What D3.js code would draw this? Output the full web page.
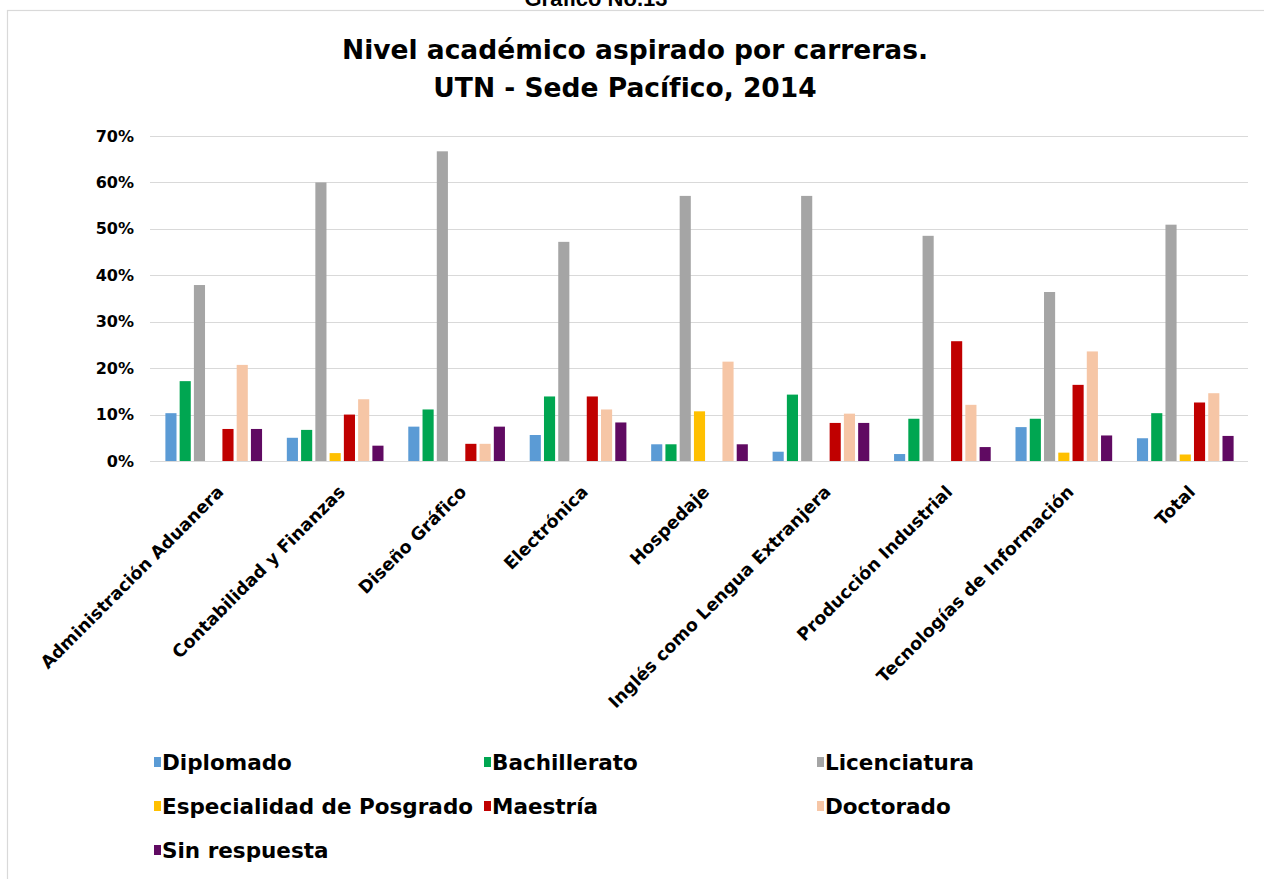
<!DOCTYPE html>
<html lang="es">
<head>
<meta charset="utf-8">
<script src="https://cdn.jsdelivr.net/npm/d3@7"></script>
<style>
  html, body { margin: 0; padding: 0; background: #ffffff; }
  svg { display: block; }
  text { font-family: "Century Gothic", "DejaVu Sans", sans-serif; fill: #000; }
</style>
</head>
<body>
<svg id="chart" width="1264" height="879"></svg>
<script>
// Careers (x categories)
const carreras = [
  "Administración Aduanera",
  "Contabilidad y Finanzas",
  "Diseño Gráfico",
  "Electrónica",
  "Hospedaje",
  "Inglés como Lengua Extranjera",
  "Producción Industrial",
  "Tecnologías de Información",
  "Total"
];

// Aspired academic level (series)
const niveles = [
  "Diplomado",
  "Bachillerato",
  "Licenciatura",
  "Especialidad de Posgrado",
  "Maestría",
  "Doctorado",
  "Sin respuesta"
];

// Percentages per career, one array per level (same order as carreras)
const diplomado    = [10.3,  5.0,  7.4,  5.6,  3.6,  2.0,  1.5,  7.3,  4.9];
const bachillerato = [17.2,  6.7, 11.1, 13.9,  3.6, 14.3,  9.1,  9.1, 10.3];
const licenciatura = [37.9, 60.0, 66.7, 47.2, 57.1, 57.1, 48.5, 36.4, 50.9];
const especialidad = [ 0.0,  1.7,  0.0,  0.0, 10.7,  0.0,  0.0,  1.8,  1.4];
const maestria     = [ 6.9, 10.0,  3.7, 13.9,  0.0,  8.2, 25.8, 16.4, 12.6];
const doctorado    = [20.7, 13.3,  3.7, 11.1, 21.4, 10.2, 12.1, 23.6, 14.6];
const sinRespuesta = [ 6.9,  3.3,  7.4,  8.3,  3.6,  8.2,  3.0,  5.5,  5.4];

// Y-axis ticks
const yTicks = [0, 10, 20, 30, 40, 50, 60, 70];

const colores = ["#5b9bd5", "#00a651", "#a5a5a5", "#ffc000", "#c00000", "#f6c6a6", "#600a62"];

const serieValores = [diplomado, bachillerato, licenciatura, especialidad, maestria, doctorado, sinRespuesta];

// Long-format rows built from the arrays above
const filas = carreras.map((c, i) => ({
  carrera: c,
  valores: niveles.map((n, j) => ({ nivel: n, valor: serieValores[j][i] }))
}));

const svg = d3.select("#chart");

// Caption above the frame (partly outside the page)
svg.append("text")
  .attr("x", 596).attr("y", 6)
  .attr("text-anchor", "middle")
  .style("font-family", "'Liberation Sans', Arial, sans-serif")
  .style("font-weight", "bold")
  .style("font-size", "22px")
  .text("Gráfico No.13");

svg.append("rect")
  .attr("x", 7.5).attr("y", 10.5)
  .attr("width", 1300).attr("height", 900)
  .attr("fill", "#ffffff")
  .attr("stroke", "#d9d9d9")
  .attr("stroke-width", 1.2);

// Title
const titulo = svg.append("g").attr("font-weight", "bold");
titulo.append("text")
  .attr("x", 635).attr("y", 59)
  .attr("text-anchor", "middle")
  .style("font-size", "26.5px")
  .text("Nivel académico aspirado por carreras.");
titulo.append("text")
  .attr("x", 625).attr("y", 97)
  .attr("text-anchor", "middle")
  .style("font-size", "26.5px")
  .text("UTN - Sede Pacífico, 2014");

// Plot area
const plotL = 150, plotR = 1248, plotT = 136, plotB = 461;

const y = d3.scaleLinear().domain([0, 70]).range([plotB, plotT]);
const x0 = d3.scaleBand().domain(carreras).range([plotL + 3, plotR - 2]).padding(0);
const x1 = d3.scaleBand().domain(niveles)
  .range([x0.bandwidth() * 0.102, x0.bandwidth() * 0.898])
  .paddingInner(0.22).paddingOuter(0);

// Gridlines
svg.append("g")
  .selectAll("line")
  .data(yTicks)
  .join("line")
  .attr("x1", plotL).attr("x2", plotR)
  .attr("y1", d => Math.round(y(d)) + 0.5)
  .attr("y2", d => Math.round(y(d)) + 0.5)
  .attr("stroke", "#d9d9d9")
  .attr("stroke-width", 1.2);

// Y axis labels
const yAxis = d3.axisLeft(y).tickValues(yTicks).tickSize(0).tickPadding(0).tickFormat(d => d + "%");
const gy = svg.append("g").attr("transform", `translate(${plotL - 16},0)`).call(yAxis);
gy.select(".domain").remove();
gy.selectAll("text")
  .style("font-family", "'Century Gothic', 'DejaVu Sans', sans-serif")
  .style("font-weight", "bold")
  .style("font-size", "16px")
  .attr("fill", "#000");

// Bars
const grupos = svg.append("g")
  .selectAll("g")
  .data(filas)
  .join("g")
  .attr("transform", d => `translate(${x0(d.carrera)},0)`);

grupos.selectAll("rect")
  .data(d => d.valores)
  .join("rect")
  .attr("x", d => x1(d.nivel))
  .attr("width", x1.bandwidth())
  .attr("y", d => y(d.valor))
  .attr("height", d => plotB - y(d.valor))
  .attr("fill", (d, i) => colores[i]);

// X axis (category labels, rotated)
const xAxis = d3.axisBottom(x0).tickSize(0).tickPadding(0);
const gx = svg.append("g").attr("transform", `translate(0,${plotB})`).call(xAxis);
gx.select(".domain").remove();
gx.selectAll(".tick text")
  .style("font-family", "'Century Gothic', 'DejaVu Sans', sans-serif")
  .style("font-weight", "bold")
  .style("font-size", "17.5px")
  .attr("fill", "#000")
  .attr("text-anchor", "end")
  .attr("dy", 0)
  .attr("y", 0)
  .attr("transform", "translate(11,32) rotate(-45)");

// Legend
const legendaPos = [
  [154, 762], [484, 762], [817, 762],
  [154, 806], [484, 806], [817, 806],
  [154, 850]
];
const leyenda = svg.append("g")
  .selectAll("g")
  .data(niveles)
  .join("g")
  .attr("transform", (d, i) => `translate(${legendaPos[i][0]},${legendaPos[i][1]})`);

leyenda.append("rect")
  .attr("x", 0).attr("y", -5)
  .attr("width", 7).attr("height", 10)
  .attr("fill", (d, i) => colores[i]);

leyenda.append("text")
  .attr("x", 8).attr("y", 0)
  .attr("dy", "0.36em")
  .style("font-weight", "bold")
  .style("font-size", "21.5px")
  .text(d => d);
</script>
</body>
</html>
